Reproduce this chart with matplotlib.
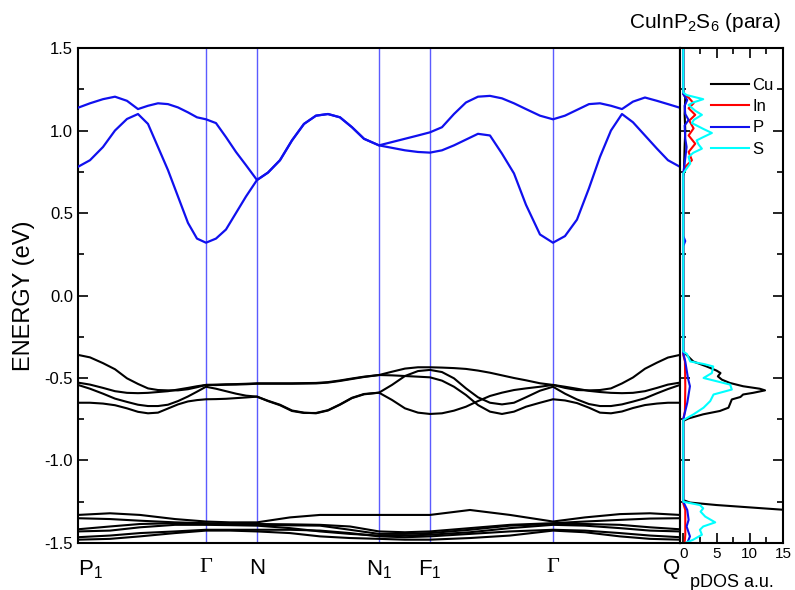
import numpy as np
import matplotlib.pyplot as plt
from matplotlib.ticker import MultipleLocator

plt.rcParams['font.family'] = 'Liberation Sans'
plt.rcParams['mathtext.fontset'] = 'custom'
plt.rcParams['mathtext.rm'] = 'Liberation Sans'
plt.rcParams['mathtext.it'] = 'Liberation Sans:italic'
plt.rcParams['axes.unicode_minus'] = False

# high symmetry points along the path (arbitrary path units)
sym_k = [0.0, 1.28, 1.79, 3.01, 3.52, 4.75, 6.02]
sym_labels = [r'P$_1$', 'Γ', 'N', r'N$_1$', r'F$_1$', 'Γ', 'Q']

# k grid for the upper bands
k = [0.00, 0.12, 0.25, 0.37, 0.49, 0.60, 0.70, 0.80, 0.90, 1.00, 1.10, 1.19, 1.28,
     1.38, 1.48, 1.58, 1.68, 1.79,
     1.90, 2.02, 2.14, 2.26, 2.38, 2.50, 2.62, 2.74, 2.86, 3.01,
     3.14, 3.27, 3.40, 3.52,
     3.64, 3.76, 3.88, 4.00, 4.12, 4.24, 4.36, 4.48, 4.62, 4.75,
     4.87, 4.99, 5.11, 5.22, 5.33, 5.44, 5.55, 5.67, 5.79, 5.90, 6.02]

# conduction bands (eV)
cb1 = [0.78, 0.82, 0.90, 1.00, 1.07, 1.10, 1.04, 0.90, 0.76, 0.60, 0.44, 0.345, 0.32,
       0.345, 0.40, 0.50, 0.60, 0.70,
       0.745, 0.82, 0.94, 1.04, 1.09, 1.10, 1.08, 1.02, 0.95, 0.91,
       0.895, 0.88, 0.87, 0.866,
       0.88, 0.91, 0.945, 0.98, 0.97, 0.86, 0.74, 0.55, 0.37, 0.32,
       0.36, 0.46, 0.65, 0.84, 1.00, 1.10, 1.05, 0.97, 0.89, 0.82, 0.78]
cb2 = [1.138, 1.165, 1.19, 1.205, 1.18, 1.13, 1.15, 1.165, 1.16, 1.14, 1.11, 1.08, 1.068,
       1.045, 0.96, 0.87, 0.79, 0.70,
       0.745, 0.82, 0.94, 1.04, 1.09, 1.10, 1.08, 1.02, 0.95, 0.91,
       0.93, 0.95, 0.97, 0.989,
       1.02, 1.10, 1.17, 1.205, 1.21, 1.195, 1.165, 1.13, 1.09, 1.068,
       1.09, 1.125, 1.16, 1.165, 1.15, 1.13, 1.175, 1.20, 1.18, 1.16, 1.138]

# upper valence bands (eV)
vb_a = [-0.36, -0.375, -0.41, -0.447, -0.502, -0.536, -0.563, -0.573, -0.575, -0.575, -0.568, -0.556, -0.542,
        -0.540, -0.538, -0.537, -0.535, -0.532,
        -0.532, -0.532, -0.532, -0.531, -0.530, -0.525, -0.515, -0.503, -0.492, -0.482,
        -0.462, -0.443, -0.435, -0.435,
        -0.437, -0.44, -0.445, -0.455, -0.468, -0.484, -0.50, -0.514, -0.532, -0.542,
        -0.56, -0.573, -0.575, -0.573, -0.563, -0.533, -0.497, -0.444, -0.407, -0.376, -0.36]
vb_b = [-0.528, -0.54, -0.56, -0.58, -0.59, -0.592, -0.59, -0.585, -0.58, -0.57, -0.56, -0.55, -0.542,
        -0.543, -0.541, -0.54, -0.538, -0.535,
        -0.535, -0.535, -0.535, -0.534, -0.533, -0.528, -0.518, -0.506, -0.494, -0.482,
        -0.484, -0.488, -0.492, -0.496,
        -0.516, -0.553, -0.603, -0.664, -0.704, -0.718, -0.704, -0.674, -0.65, -0.629,
        -0.636, -0.652, -0.68, -0.71, -0.714, -0.703, -0.682, -0.664, -0.655, -0.650, -0.650]
vb_c = [-0.542, -0.565, -0.595, -0.625, -0.645, -0.662, -0.670, -0.670, -0.662, -0.640, -0.612, -0.583, -0.553,
        -0.565, -0.58, -0.595, -0.607, -0.613,
        -0.64, -0.665, -0.70, -0.712, -0.712, -0.695, -0.66, -0.62, -0.597, -0.589,
        -0.542, -0.488, -0.458, -0.451,
        -0.464, -0.502, -0.563, -0.617, -0.65, -0.66, -0.65, -0.617, -0.577, -0.553,
        -0.595, -0.63, -0.658, -0.67, -0.67, -0.66, -0.643, -0.623, -0.593, -0.567, -0.542]
vb_d = [-0.650, -0.650, -0.655, -0.665, -0.684, -0.705, -0.714, -0.710, -0.685, -0.66, -0.642, -0.634, -0.629,
        -0.628, -0.626, -0.622, -0.618, -0.613,
        -0.638, -0.662, -0.697, -0.71, -0.714, -0.697, -0.662, -0.622, -0.599, -0.589,
        -0.633, -0.684, -0.71, -0.718,
        -0.714, -0.698, -0.674, -0.64, -0.609, -0.589, -0.573, -0.563, -0.553, -0.542,
        -0.553, -0.565, -0.578, -0.585, -0.59, -0.592, -0.59, -0.58, -0.56, -0.54, -0.528]

# lower valence bundle on a coarser grid
k_low = [0, 0.32, 0.62, 0.97, 1.28, 1.52, 1.79, 2.12, 2.42, 2.72, 3.01, 3.27, 3.52,
         3.92, 4.32, 4.75, 5.07, 5.42, 5.72, 6.02]
lb1 = [-1.33, -1.32, -1.33, -1.355, -1.37, -1.375, -1.375, -1.345, -1.33, -1.33, -1.33, -1.33,
       -1.33, -1.30, -1.33, -1.37, -1.345, -1.325, -1.32, -1.33]
lb2 = [-1.35, -1.355, -1.365, -1.375, -1.38, -1.383, -1.385, -1.387, -1.39, -1.40, -1.43, -1.435,
       -1.43, -1.41, -1.39, -1.38, -1.37, -1.36, -1.352, -1.35]
lb3 = [-1.417, -1.40, -1.385, -1.38, -1.384, -1.386, -1.39, -1.393, -1.395, -1.42, -1.445, -1.445,
       -1.44, -1.42, -1.395, -1.385, -1.385, -1.39, -1.405, -1.417]
lb4 = [-1.43, -1.425, -1.405, -1.39, -1.39, -1.392, -1.395, -1.41, -1.43, -1.445, -1.455, -1.455,
       -1.45, -1.435, -1.41, -1.39, -1.395, -1.41, -1.425, -1.43]
lb5 = [-1.465, -1.455, -1.44, -1.43, -1.42, -1.42, -1.42, -1.42, -1.425, -1.44, -1.46, -1.465,
       -1.46, -1.445, -1.43, -1.42, -1.425, -1.44, -1.455, -1.465]
lb6 = [-1.48, -1.475, -1.46, -1.44, -1.425, -1.425, -1.43, -1.44, -1.46, -1.47, -1.475, -1.48,
       -1.48, -1.47, -1.455, -1.425, -1.435, -1.46, -1.475, -1.48]

# partial DOS (energy, a.u.)
cu_e = [1.5, 1.23, 1.20, 1.10, 1.00, 0.90, 0.75, 0.72, -0.34, -0.36, -0.40, -0.43, -0.455, -0.47,
        -0.49, -0.51, -0.53, -0.55, -0.565, -0.575, -0.59, -0.60, -0.615, -0.63, -0.66, -0.68,
        -0.70, -0.72, -0.745, -0.76, -1.24, -1.255, -1.27, -1.29, -1.31, -1.33, -1.45, -1.55]
cu_d = [0, 0, 0.3, 0.2, 0.3, 0.2, 0.1, 0, 0, 0.5, 1.5, 3.5, 5.0, 5.6,
        5.2, 5.8, 7.0, 9.0, 11.5, 12.3, 10.5, 9.0, 8.6, 7.3, 7.0, 6.8,
        5.5, 3.0, 0.8, 0, 0, 1.0, 5.0, 12.0, 19.0, 25.0, 40.0, 0]
in_e = [1.5, 1.22, 1.20, 1.165, 1.135, 1.095, 1.06, 1.013, 0.97, 0.92, 0.87, 0.82, 0.78, 0.74,
        -0.36, -0.40, -0.55, -0.70, -0.75, -1.26, -1.30, -1.45, -1.5]
in_d = [0, 0, 0.8, 1.55, 0.8, 1.8, 0.9, 1.55, 0.8, 1.8, 0.8, 1.3, 0.3, 0,
        0, 0.25, 0.3, 0.25, 0, 0, 0.3, 0.3, 0.2]
p_e = [1.5, 1.22, 1.185, 1.15, 1.10, 1.064, 1.03, 0.95, 0.90, 0.80, 0.74, 0.36, 0.33, 0.30,
       -0.35, -0.40, -0.45, -0.50, -0.55, -0.60, -0.65, -0.70, -0.75, -1.25, -1.30, -1.36,
       -1.40, -1.46, -1.5]
p_d = [0, 0, 0.6, 0.2, 0.3, 0.8, 0.2, 0.3, 0.5, 0.2, 0, 0, 0.3, 0,
       0, 0.3, 0.5, 0.7, 1.0, 0.8, 0.6, 0.3, 0, 0, 0.6, 0.8,
       0.5, 1.0, 0.6]
s_e = [1.5, 1.23, 1.215, 1.19, 1.17, 1.155, 1.12, 1.095, 1.065, 1.045, 1.01, 0.985, 0.96, 0.94,
       0.915, 0.89, 0.865, 0.84, 0.80, 0.77, 0.74, -0.34, -0.355, -0.40, -0.415, -0.43, -0.47,
       -0.50, -0.51, -0.54, -0.57, -0.60, -0.64, -0.68, -0.72, -0.755, -1.25, -1.27, -1.29,
       -1.31, -1.34, -1.375, -1.40, -1.42, -1.45, -1.48, -1.50]
s_d = [0, 0, 0.5, 3.0, 1.5, 0.8, 1.8, 2.8, 1.6, 1.3, 3.0, 4.3, 3.0, 2.0,
       2.3, 2.8, 1.5, 0.8, 1.05, 0.5, 0, 0, 0.55, 1.05, 3.05, 4.5, 4.3,
       3.05, 4.05, 7.05, 7.3, 4.55, 4.05, 3.05, 1.55, 0, 0, 2.5, 3.0,
       2.6, 3.3, 4.8, 3.0, 2.5, 2.8, 1.5, 0.3]

fig = plt.figure(figsize=(7.95, 5.90), dpi=100)
ax = fig.add_axes([0.0981, 0.0797, 0.7572, 0.8389])
ax2 = fig.add_axes([0.8553, 0.0797, 0.1296, 0.8389])

for kv in sym_k[1:-1]:
    ax.axvline(kv, color='#5b5bff', lw=1.0, zorder=1)

for band in (cb1, cb2):
    ax.plot(k, band, color='#1010ee', lw=1.6, zorder=3)
for band in (vb_a, vb_b, vb_c, vb_d):
    ax.plot(k, band, color='black', lw=1.5, zorder=3)
for band in (lb1, lb2, lb3, lb4, lb5, lb6):
    ax.plot(k_low, band, color='black', lw=1.5, zorder=3)

ax.set_xlim(sym_k[0], sym_k[-1])
ax.set_ylim(-1.5, 1.5)
ax.set_xticks(sym_k)
ax.set_xticklabels(sym_labels)
ticklabs = ax.get_xticklabels()
for lab in ticklabs:
    if lab.get_text() == 'Γ':
        lab.set_fontfamily('Liberation Serif')
        lab.set_fontsize(15)
ticklabs[0].set_ha('left')
ticklabs[-1].set_ha('right')
ax.tick_params(axis='x', length=0, pad=11, labelsize=16)
ax.yaxis.set_major_locator(MultipleLocator(0.5))
ax.yaxis.set_minor_locator(MultipleLocator(0.25))
ax.tick_params(axis='y', which='major', direction='in', length=7, width=1.2, labelsize=12)
ax.tick_params(axis='y', which='minor', direction='in', length=4, width=1.2)
ax.set_ylabel('ENERGY (eV)', fontsize=17, labelpad=7)
for sp in ax.spines.values():
    sp.set_linewidth(1.5)

ax2.plot(cu_d, cu_e, color='black', lw=1.5, label='Cu')
ax2.plot(in_d, in_e, color='red', lw=1.5, label='In')
ax2.plot(p_d, p_e, color='#1010ee', lw=1.5, label='P')
ax2.plot(s_d, s_e, color='cyan', lw=1.5, label='S')
ax2.set_xlim(-0.5, 15)
ax2.set_ylim(-1.5, 1.5)
ax2.set_xticks([0, 5, 10, 15])
ax2.xaxis.set_minor_locator(MultipleLocator(2.5))
ax2.yaxis.set_major_locator(MultipleLocator(0.5))
ax2.yaxis.set_minor_locator(MultipleLocator(0.25))
ax2.tick_params(which='both', direction='in', top=True, right=True, left=True,
                labelleft=False, width=1.2)
ax2.tick_params(which='major', length=7, labelsize=11, pad=3)
ax2.tick_params(which='minor', length=4)
ax2.set_xlabel('pDOS a.u.', fontsize=13, labelpad=9)
for sp in ax2.spines.values():
    sp.set_linewidth(1.5)
ax2.legend(loc='upper left', bbox_to_anchor=(0.30, 0.94), frameon=False, fontsize=12,
           handlelength=2.3, handletextpad=0.2, labelspacing=0.38, borderpad=0,
           borderaxespad=0)

fig.text(0.982, 0.962, r'CuInP$_2$S$_6$ (para)', ha='right', va='center', fontsize=15)

fig.savefig('out.png', dpi=100)
